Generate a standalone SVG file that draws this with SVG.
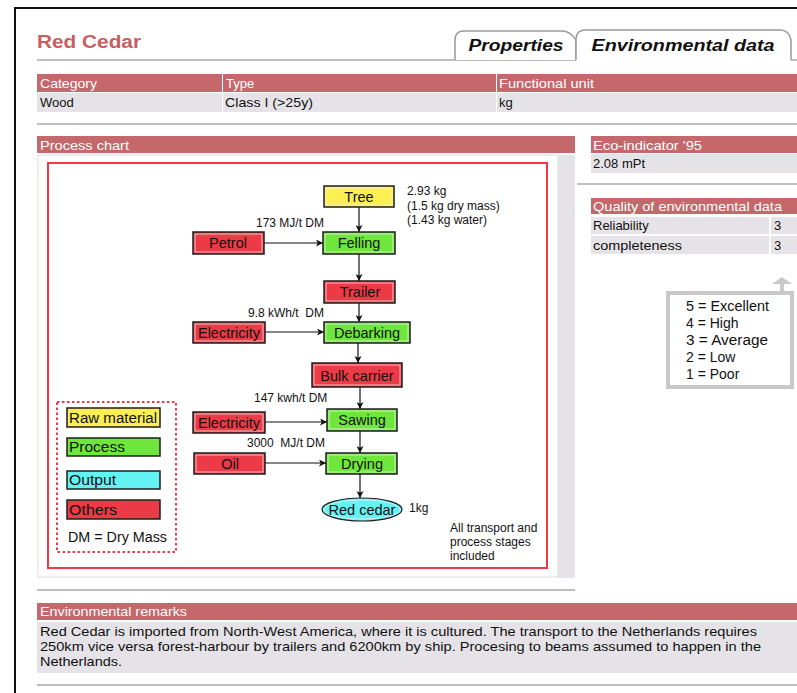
<svg xmlns="http://www.w3.org/2000/svg" width="797" height="693" viewBox="0 0 797 693">
  <style>
    .ui { font-family: "Liberation Sans", Arial, sans-serif; font-size: 13px; fill: #111; }
    .scale { font-family: "Liberation Sans", Arial, sans-serif; font-size: 14px; fill: #111; }
    .hdr { font-family: "Liberation Sans", Arial, sans-serif; font-size: 13px; fill: #fff; }
    .hbar { fill: #c4686b; }
    .row { fill: #e5e3e7; }
    .rule { stroke: #a8a8a8; stroke-width: 1.5; }
    .tab { fill: #fff; stroke: #9a9a9a; stroke-width: 1.5; }
    .tabtxt { font-family: "Liberation Sans", Arial, sans-serif; font-size: 16px; font-weight: bold; font-style: italic; fill: #111; }
    .box { stroke: #1e1e1e; stroke-width: 1.5; }
    .inner { fill: none; stroke: #f2f2f2; stroke-width: 1; opacity: 0.7; }
    .lbl { font-family: "Liberation Sans", Arial, sans-serif; font-size: 14.5px; fill: #111; text-anchor: middle; }
    .note { font-family: "Liberation Sans", Arial, sans-serif; font-size: 12px; fill: #111; }
    .leg { font-family: "Liberation Sans", Arial, sans-serif; font-size: 14px; fill: #111; }
    .raw { fill: #fbef52; }
    .proc { fill: #6fe63c; }
    .out { fill: #63f3f3; }
    .oth { fill: #ec3b46; }
    .conn line { stroke: #111; stroke-width: 1.2; marker-end: url(#ah); }
  </style>
  <defs>
    <marker id="ah" viewBox="0 0 8 8" refX="8" refY="4" markerWidth="7" markerHeight="7" markerUnits="userSpaceOnUse" orient="auto">
      <path d="M0,0 L8,4 L0,8 L2,4 Z" fill="#111"/>
    </marker>
  </defs>

  <!-- window frame -->
  <rect x="0" y="0" width="797" height="693" fill="#fff"/>
  <line x1="15" y1="8" x2="797" y2="8" stroke="#111" stroke-width="2"/>
  <line x1="15" y1="7" x2="15" y2="693" stroke="#111" stroke-width="2"/>

  <!-- title and tabs -->
  <text x="37" y="48" font-family="'Liberation Sans', Arial, sans-serif" font-size="18" font-weight="bold" fill="#c65f62" textLength="104" lengthAdjust="spacingAndGlyphs">Red Cedar</text>
  <line class="rule" x1="37" y1="60" x2="797" y2="60"/>
  <g id="tab-properties">
    <path class="tab" d="M455,60 L455,40 Q455,31 464,31 L562,31 Q570,31 576,40 L576,60"/>
    <text class="tabtxt" x="516" y="51" text-anchor="middle" textLength="95" lengthAdjust="spacingAndGlyphs">Properties</text>
  </g>
  <g id="tab-environmental">
    <rect x="576" y="40" width="215" height="21" fill="#fff"/>
    <path class="tab" d="M576,60 L576,39 Q576,30 586,30 L780,30 Q789,30 791,40 L791,60"/>
    <text class="tabtxt" x="683" y="51" text-anchor="middle" textLength="183" lengthAdjust="spacingAndGlyphs">Environmental data</text>
  </g>

  <!-- general table -->
  <g id="general-table">
    <rect class="hbar" x="37" y="74" width="185" height="18"/>
    <rect class="hbar" x="223" y="74" width="273" height="18"/>
    <rect class="hbar" x="497" y="74" width="300" height="18"/>
    <rect class="row" x="37" y="93" width="185" height="19"/>
    <rect class="row" x="223" y="93" width="273" height="19"/>
    <rect class="row" x="497" y="93" width="300" height="19"/>
    <text class="hdr" x="40" y="88" textLength="57" lengthAdjust="spacingAndGlyphs">Category</text>
    <text class="hdr" x="226" y="88">Type</text>
    <text class="hdr" x="499" y="88" textLength="95" lengthAdjust="spacingAndGlyphs">Functional unit</text>
    <text class="ui" x="40" y="107">Wood</text>
    <text class="ui" x="225" y="107" textLength="88" lengthAdjust="spacingAndGlyphs">Class I (&gt;25y)</text>
    <text class="ui" x="499" y="107">kg</text>
  </g>
  <line class="rule" x1="37" y1="124" x2="797" y2="124"/>

  <!-- process chart panel -->
  <rect class="hbar" x="37" y="136" width="538" height="17"/>
  <text class="hdr" x="40" y="150" textLength="89" lengthAdjust="spacingAndGlyphs">Process chart</text>
  <rect x="38" y="155" width="520" height="422" fill="#fff" stroke="#dcdcdc" stroke-width="1"/>
  <rect x="558" y="155" width="17" height="423" fill="#e5e3e7"/>
  <rect x="48" y="163" width="499" height="405" fill="none" stroke="#ee3a46" stroke-width="2"/>

  <!-- connectors -->
  <g class="conn" id="connectors">
    <line x1="359" y1="207" x2="359" y2="232"/>
    <line x1="264" y1="243" x2="323" y2="243"/>
    <line x1="359" y1="254" x2="359" y2="281"/>
    <line x1="359" y1="303" x2="359" y2="322"/>
    <line x1="265" y1="332" x2="324" y2="332"/>
    <line x1="358" y1="343" x2="358" y2="363"/>
    <line x1="360" y1="387" x2="360" y2="409"/>
    <line x1="265" y1="422" x2="327" y2="422"/>
    <line x1="360" y1="431" x2="360" y2="453"/>
    <line x1="265" y1="463" x2="326" y2="463"/>
    <line x1="360" y1="474" x2="360" y2="498"/>
  </g>

  <!-- chart nodes -->
  <g id="node-tree">
    <rect class="box raw" x="324" y="186" width="70" height="21"/>
    <rect class="inner" x="326" y="188" width="66" height="17"/>
    <text class="lbl" x="359" y="202">Tree</text>
  </g>
  <g id="node-felling">
    <rect class="box proc" x="323" y="232" width="72" height="22"/>
    <rect class="inner" x="325" y="234" width="68" height="18"/>
    <text class="lbl" x="359" y="248">Felling</text>
  </g>
  <g id="node-petrol">
    <rect class="box oth" x="193" y="232" width="71" height="22"/>
    <rect class="inner" x="195" y="234" width="67" height="18"/>
    <text class="lbl" x="228" y="248">Petrol</text>
  </g>
  <g id="node-trailer">
    <rect class="box oth" x="324" y="281" width="71" height="22"/>
    <rect class="inner" x="326" y="283" width="67" height="18"/>
    <text class="lbl" x="360" y="297">Trailer</text>
  </g>
  <g id="node-electricity-1">
    <rect class="box oth" x="193" y="322" width="72" height="21"/>
    <rect class="inner" x="195" y="324" width="68" height="17"/>
    <text class="lbl" x="229" y="338">Electricity</text>
  </g>
  <g id="node-debarking">
    <rect class="box proc" x="324" y="322" width="86" height="21"/>
    <rect class="inner" x="326" y="324" width="82" height="17"/>
    <text class="lbl" x="367" y="338">Debarking</text>
  </g>
  <g id="node-bulk-carrier">
    <rect class="box oth" x="312" y="363" width="90" height="24"/>
    <rect class="inner" x="314" y="365" width="86" height="20"/>
    <text class="lbl" x="357" y="381">Bulk carrier</text>
  </g>
  <g id="node-electricity-2">
    <rect class="box oth" x="193" y="412" width="72" height="21"/>
    <rect class="inner" x="195" y="414" width="68" height="17"/>
    <text class="lbl" x="229" y="428">Electricity</text>
  </g>
  <g id="node-sawing">
    <rect class="box proc" x="327" y="409" width="70" height="22"/>
    <rect class="inner" x="329" y="411" width="66" height="18"/>
    <text class="lbl" x="362" y="425">Sawing</text>
  </g>
  <g id="node-oil">
    <rect class="box oth" x="194" y="453" width="71" height="21"/>
    <rect class="inner" x="196" y="455" width="67" height="17"/>
    <text class="lbl" x="230" y="469">Oil</text>
  </g>
  <g id="node-drying">
    <rect class="box proc" x="326" y="453" width="71" height="21"/>
    <rect class="inner" x="328" y="455" width="67" height="17"/>
    <text class="lbl" x="362" y="469">Drying</text>
  </g>
  <g id="node-red-cedar">
    <ellipse class="out" cx="362" cy="509.5" rx="40" ry="11.5" stroke="#1e1e1e" stroke-width="1.2"/>
    <ellipse cx="362" cy="509.5" rx="38" ry="9.5" fill="none" stroke="#f2f2f2" stroke-width="1" opacity="0.7"/>
    <text class="lbl" x="362" y="514.5">Red cedar</text>
  </g>

  <!-- quantities and notes -->
  <g id="chart-notes">
    <text class="note" x="407" y="195">2.93 kg</text>
    <text class="note" x="407" y="210">(1.5 kg dry mass)</text>
    <text class="note" x="407" y="224">(1.43 kg water)</text>
    <text class="note" x="256" y="227">173 MJ/t DM</text>
    <text class="note" x="248" y="317">9.8 kWh/t&#160; DM</text>
    <text class="note" x="254" y="402">147 kwh/t DM</text>
    <text class="note" x="247" y="447">3000&#160; MJ/t DM</text>
    <text class="note" x="409" y="512">1kg</text>
    <text class="note" x="450" y="532">All transport and</text>
    <text class="note" x="450" y="546">process stages</text>
    <text class="note" x="450" y="560">included</text>
  </g>

  <!-- legend -->
  <g id="chart-legend">
    <rect x="57" y="402" width="119" height="150" fill="none" stroke="#ee3a46" stroke-width="2" stroke-dasharray="2.5,2.5"/>
    <rect class="box raw" x="67" y="408" width="93" height="19"/>
    <text class="leg" x="69" y="423" textLength="88" lengthAdjust="spacingAndGlyphs">Raw material</text>
    <rect class="box proc" x="67" y="438" width="93" height="18"/>
    <text class="leg" x="69" y="452" textLength="56" lengthAdjust="spacingAndGlyphs">Process</text>
    <rect class="box out" x="67" y="471" width="93" height="18"/>
    <text class="leg" x="69" y="485" textLength="47" lengthAdjust="spacingAndGlyphs">Output</text>
    <rect class="box oth" x="67" y="500" width="93" height="19"/>
    <text class="leg" x="69" y="515" textLength="48" lengthAdjust="spacingAndGlyphs">Others</text>
    <text class="leg" x="68" y="542" textLength="99" lengthAdjust="spacingAndGlyphs">DM = Dry Mass</text>
  </g>

  <!-- eco-indicator -->
  <g id="eco-indicator">
    <rect class="hbar" x="591" y="136" width="206" height="17"/>
    <text class="hdr" x="593" y="150" textLength="109" lengthAdjust="spacingAndGlyphs">Eco-indicator '95</text>
    <rect class="row" x="591" y="154" width="206" height="19"/>
    <text class="ui" x="593" y="168">2.08 mPt</text>
  </g>
  <line class="rule" x1="577" y1="184" x2="797" y2="184"/>

  <!-- data quality -->
  <g id="data-quality">
    <rect class="hbar" x="591" y="198" width="206" height="16"/>
    <text class="hdr" x="593" y="211" textLength="189" lengthAdjust="spacingAndGlyphs">Quality of environmental data</text>
    <rect class="row" x="591" y="217" width="178" height="17"/>
    <rect class="row" x="771" y="217" width="26" height="17"/>
    <rect class="row" x="591" y="236" width="178" height="18"/>
    <rect class="row" x="771" y="236" width="26" height="18"/>
    <text class="ui" x="593" y="230">Reliability</text>
    <text class="ui" x="593" y="250" textLength="89" lengthAdjust="spacingAndGlyphs">completeness</text>
    <text class="ui" x="774" y="230">3</text>
    <text class="ui" x="774" y="250">3</text>
  </g>

  <!-- rating scale -->
  <g id="rating-scale">
    <rect x="668" y="293" width="124" height="94" fill="#fff" stroke="#c9c9c9" stroke-width="4"/>
    <path d="M772,284 L782,277 L792,284 L784,284 L784,292 L780,292 L780,284 Z" fill="#c9c9c9"/>
    <text class="scale" x="686" y="311" textLength="83" lengthAdjust="spacingAndGlyphs">5 = Excellent</text>
    <text class="scale" x="686" y="328">4 = High</text>
    <text class="scale" x="686" y="345" textLength="82" lengthAdjust="spacingAndGlyphs">3 = Average</text>
    <text class="scale" x="686" y="362">2 = Low</text>
    <text class="scale" x="686" y="379">1 = Poor</text>
  </g>

  <!-- environmental remarks -->
  <line class="rule" x1="37" y1="590" x2="575" y2="590"/>
  <g id="remarks">
    <rect class="hbar" x="37" y="603" width="760" height="17"/>
    <text class="hdr" x="40" y="616" textLength="147" lengthAdjust="spacingAndGlyphs">Environmental remarks</text>
    <rect class="row" x="37" y="622" width="760" height="51"/>
    <text class="ui" x="40" y="636" textLength="717" lengthAdjust="spacingAndGlyphs">Red Cedar is imported from North-West America, where it is cultured. The transport to the Netherlands requires</text>
    <text class="ui" x="40" y="651" textLength="721" lengthAdjust="spacingAndGlyphs">250km vice versa forest-harbour by trailers and 6200km by ship. Procesing to beams assumed to happen in the</text>
    <text class="ui" x="40" y="666" textLength="82" lengthAdjust="spacingAndGlyphs">Netherlands.</text>
  </g>
  <line class="rule" x1="37" y1="685" x2="797" y2="685"/>
</svg>
